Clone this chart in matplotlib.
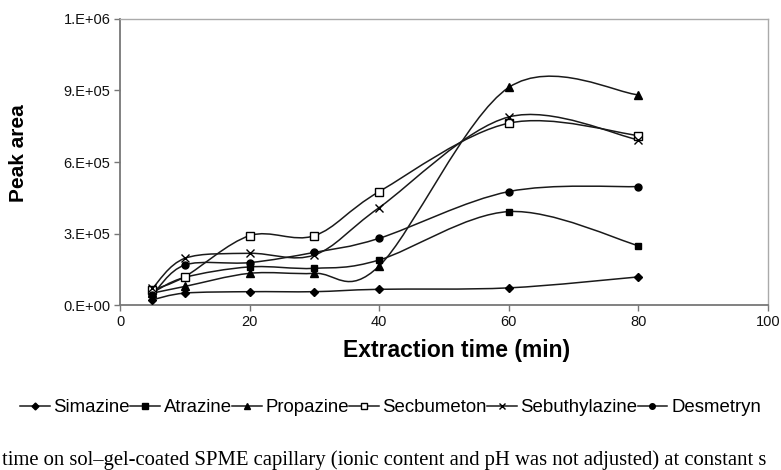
import matplotlib
matplotlib.use("Agg")
import matplotlib.pyplot as plt
import numpy as np
from matplotlib.path import Path
from matplotlib.patches import PathPatch
from matplotlib.lines import Line2D

plt.rcParams['font.family'] = ['Liberation Sans', 'DejaVu Sans']

time = [5, 10, 20, 30, 40, 60, 80]
simazine = [0.22e5, 0.50e5, 0.56e5, 0.56e5, 0.66e5, 0.72e5, 1.18e5]
atrazine = [0.52e5, 1.16e5, 1.60e5, 1.54e5, 1.89e5, 3.92e5, 2.49e5]
propazine = [0.50e5, 0.78e5, 1.33e5, 1.33e5, 1.64e5, 9.13e5, 8.82e5]
secbumeton = [0.63e5, 1.19e5, 2.91e5, 2.91e5, 4.76e5, 7.63e5, 7.11e5]
sebuthylazine = [0.70e5, 1.96e5, 2.17e5, 2.10e5, 4.09e5, 7.89e5, 6.93e5]
desmetryn = [0.42e5, 1.68e5, 1.78e5, 2.21e5, 2.80e5, 4.76e5, 4.97e5]

names = ['Simazine', 'Atrazine', 'Propazine', 'Secbumeton', 'Sebuthylazine', 'Desmetryn']
series = [simazine, atrazine, propazine, secbumeton, sebuthylazine, desmetryn]
markers = ['D', 's', '^', 's', 'x', 'o']
mfc = ['black', 'black', 'black', 'white', 'black', 'black']
msizes = [4.5, 5, 5.5, 5.5, 6, 5]

yticks = [0, 3e5, 6e5, 9e5, 1.2e6]
ytick_labels = ['0.E+00', '3.E+05', '6.E+05', '9.E+05', '1.E+06']
xticks = [0, 20, 40, 60, 80, 100]

fig = plt.figure(figsize=(7.81, 4.70), dpi=100)
ax = fig.add_axes([0.1537, 0.351, 0.8297, 0.6086])
ax.set_xlim(0, 100)
ax.set_ylim(0, 1.2e6)


def smooth_path(x, y):
    x = np.asarray(x, float)
    y = np.asarray(y, float)
    # scale to display-like units for Excel-style bezier smoothing
    sx, sy = 648 / 100.0, 286 / 1.2e6
    px, py = x * sx, y * sy
    n = len(x)
    verts = [(px[0], py[0])]
    codes = [Path.MOVETO]
    for i in range(n - 1):
        p0 = np.array([px[max(i - 1, 0)], py[max(i - 1, 0)]])
        p1 = np.array([px[i], py[i]])
        p2 = np.array([px[i + 1], py[i + 1]])
        p3 = np.array([px[min(i + 2, n - 1)], py[min(i + 2, n - 1)]])
        c1 = p1 + (p2 - p0) / 6.0
        c2 = p2 - (p3 - p1) / 6.0
        verts += [tuple(c1), tuple(c2), tuple(p2)]
        codes += [Path.CURVE4] * 3
    verts = [(vx / sx, vy / sy) for vx, vy in verts]
    return Path(verts, codes)


handles = []
for name, s, m, fc, ms in zip(names, series, markers, mfc, msizes):
    patch = PathPatch(smooth_path(time, s), facecolor='none', edgecolor='#1a1a1a', lw=1.1, zorder=2)
    ax.add_patch(patch)
    ax.plot(time, s, linestyle='none', marker=m, markersize=ms, markerfacecolor=fc,
            markeredgecolor='black', markeredgewidth=1.0, zorder=3)
    handles.append(Line2D([0], [0], color='#1a1a1a', lw=1.1, marker=m, markersize=ms - 1,
                          markerfacecolor=fc, markeredgecolor='black', markeredgewidth=1.0, label=name))

ax.set_yticks(yticks)
ax.set_yticklabels(ytick_labels)
ax.set_xticks(xticks)
for sp in ['left', 'bottom']:
    ax.spines[sp].set_color('#777777')
    ax.spines[sp].set_linewidth(1.3)
for sp in ['top', 'right']:
    ax.spines[sp].set_color('#aaaaaa')
    ax.spines[sp].set_linewidth(1.0)
ax.tick_params(axis='both', direction='out', length=4, width=1, color='#777777',
               labelsize=10.5, labelcolor='#111111', pad=3)

ax.set_xlabel('Extraction time (min)', fontsize=16.5, fontweight='bold')
ax.xaxis.set_label_coords(0.52, -0.12)
ax.set_ylabel('Peak area', fontsize=15, fontweight='bold')
ax.yaxis.set_label_coords(-0.142, 0.53)

fig.legend(handles=handles, loc='center', bbox_to_anchor=(0.5, 0.132), ncol=6, frameon=False,
           fontsize=13.4, handlelength=1.6, handletextpad=0.2, columnspacing=0.0, borderaxespad=0,
           borderpad=0)

fig.text(0.002, 0.01, 'time on sol\u2013gel-coated SPME capillary (ionic content and pH was not adjusted) at constant s',
         fontsize=14.9, family=['Liberation Serif', 'DejaVu Serif'], ha='left', va='baseline')

fig.savefig('out.png', dpi=100)
